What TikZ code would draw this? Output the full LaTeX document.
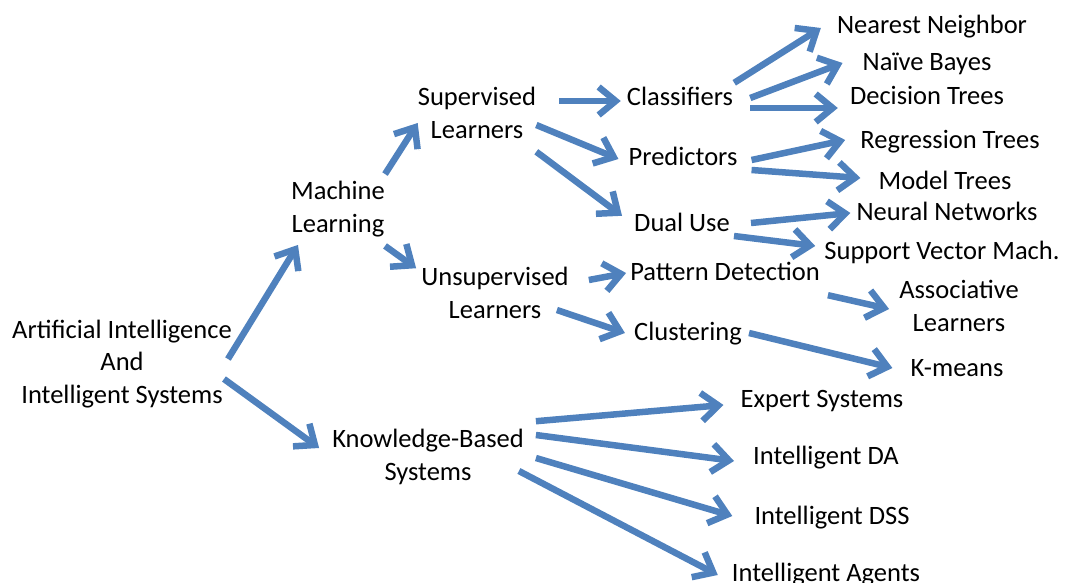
\documentclass[tikz,border=0pt]{standalone}
\usepackage{fontspec}
\setmainfont{Carlito}
\usetikzlibrary{arrows.meta,calc}
\definecolor{arrowblue}{RGB}{79,129,189}

\begin{document}
\begin{tikzpicture}[x=1pt,y=-1pt,
  lbl/.style={inner sep=0pt,font=\fontsize{26.5}{32.5}\selectfont,text height=18pt,text depth=6pt},
  lbl2/.style={inner sep=0pt,align=center,font=\fontsize{26.5}{32.5}\selectfont},
  arr/.style={draw=arrowblue,line width=6.5pt,-{Straight Barb[length=17pt,width=28pt]},
    preaction={draw=black!15,transform canvas={shift={(1.5,1.5)}}}}]
\useasboundingbox (0,-3) rectangle (1069,580);

% left side
\node[lbl2] (ai) at (122,361) {Artificial Intelligence\\And\\Intelligent Systems};
\node[lbl2] (ml) at (338,206) {Machine\\Learning};
\node[lbl2] (kbs) at (428,454) {Knowledge-Based\\Systems};
\node[lbl2] (sup) at (477,110) {Supervised\\Learners};
\node[lbl2] (unsup) at (495,290) {Unsupervised\\Learners};

% middle
\node[lbl] (cls) at (680,97) {Classifiers};
\node[lbl] (pred) at (683,157) {Predictors};
\node[lbl] (dual) at (682,222) {Dual Use};
\node[lbl] (patt) at (725,271) {Pattern Detection};
\node[lbl] (clus) at (688,331) {Clustering};

% right side
\node[lbl] (nn) at (932,25) {Nearest Neighbor};
\node[lbl] (nb) at (927,62) {Naïve Bayes};
\node[lbl] (dt) at (927,96) {Decision Trees};
\node[lbl] (rt) at (950,140) {Regression Trees};
\node[lbl] (mt) at (945,180) {Model Trees};
\node[lbl] (nnw) at (947,211) {Neural Networks};
\node[lbl] (svm) at (942,250) {Support Vector Mach.};
\node[lbl2] (assoc) at (959,303) {Associative\\Learners};
\node[lbl] (km) at (957,367) {K-means};
\node[lbl] (es) at (822,398) {Expert Systems};
\node[lbl] (ida) at (826,455) {Intelligent DA};
\node[lbl] (idss) at (832,515) {Intelligent DSS};
\node[lbl] (iag) at (826,572) {Intelligent Agents};

\draw[arr] ($(ai.east)+(-4,-5)$) -- ($(ml.south west)+(7,8)$);
\draw[arr] ($(ai.east)+(-8,15)$) -- ($(kbs.west)+(-13,-9)$);
\draw[arr] ($(ml.north east)+(0,-7)$) -- ($(sup.west)+(0,10)$);
\draw[arr] ($(ml.south east)+(0,9)$) -- ($(unsup.north west)+(-5,1)$);
\draw[arr] ($(sup.east)+(23,-12)$) -- ($(cls.west)+(-6,1)$);
\draw[arr] ($(sup.east)+(0,12)$) -- ($(pred.west)+(-10,-1)$);
\draw[arr] ($(sup.south east)+(0,13)$) -- ($(dual.north west)+(-12,3)$);
\draw[arr] ($(cls.north east)+(1,-5)$) -- ($(nn.west)+(-16,0)$);
\draw[arr] ($(cls.east)+(17,-2)$) -- ($(nb.west)+(-20,-2)$);
\draw[arr] ($(cls.east)+(17,8)$) -- ($(dt.west)+(-12,9)$);
\draw[arr] ($(pred.east)+(14,0)$) -- ($(rt.west)+(-15,-3)$);
\draw[arr] ($(pred.east)+(14,10)$) -- ($(mt.west)+(-18,-5)$);
\draw[arr] ($(dual.east)+(21,-2)$) -- ($(nnw.west)+(-6,-1)$);
\draw[arr] ($(dual.east)+(4,11)$) -- ($(svm.west)+(-9,-7)$);
\draw[arr] ($(unsup.east)+(20,-13)$) -- ($(patt.west)+(-4,-1)$);
\draw[arr] ($(unsup.east)+(-12,17)$) -- ($(clus.west)+(-9,-1)$);
\draw[arr] ($(patt.south east)+(8,9)$) -- ($(assoc.west)+(-10,3)$);
\draw[arr] ($(clus.east)+(7,-1)$) -- ($(km.west)+(-18,-2)$);
\draw[arr] ($(kbs.north east)+(12,-8)$) -- ($(es.west)+(-17,4)$);
\draw[arr] ($(kbs.east)+(12,-22)$) -- ($(ida.west)+(-19,3)$);
\draw[arr] ($(kbs.east)+(12,1)$) -- ($(idss.west)+(-22,-2)$);
\draw[arr] ($(kbs.east)+(-5,14)$) -- ($(iag.west)+(-14,0)$);
\end{tikzpicture}
\end{document}
